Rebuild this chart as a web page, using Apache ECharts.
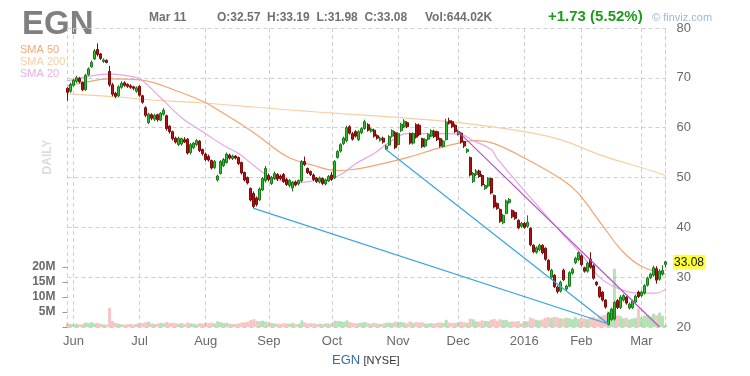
<!DOCTYPE html>
<html>
<head>
<meta charset="utf-8">
<title>EGN daily</title>
<script src="https://cdn.jsdelivr.net/npm/echarts@6/dist/echarts.min.js"></script>
<style>
  html, body { margin: 0; padding: 0; background: #fff; }
  #chart { width: 750px; height: 376px; }
</style>
</head>
<body>
<div id="chart"></div>
<script>
// trading days, May 28 2015 .. Mar 11 2016
const tradingDays = [
  ['2015-05', [28, 29]],
  ['2015-06', [1, 2, 3, 4, 5, 8, 9, 10, 11, 12, 15, 16, 17, 18, 19, 22, 23, 24, 25, 26, 29, 30]],
  ['2015-07', [1, 2, 6, 7, 8, 9, 10, 13, 14, 15, 16, 17, 20, 21, 22, 23, 24, 27, 28, 29, 30, 31]],
  ['2015-08', [3, 4, 5, 6, 7, 10, 11, 12, 13, 14, 17, 18, 19, 20, 21, 24, 25, 26, 27, 28, 31]],
  ['2015-09', [1, 2, 3, 4, 8, 9, 10, 11, 14, 15, 16, 17, 18, 21, 22, 23, 24, 25, 28, 29, 30]],
  ['2015-10', [1, 2, 5, 6, 7, 8, 9, 12, 13, 14, 15, 16, 19, 20, 21, 22, 23, 26, 27, 28, 29, 30]],
  ['2015-11', [2, 3, 4, 5, 6, 9, 10, 11, 12, 13, 16, 17, 18, 19, 20, 23, 24, 25, 27, 30]],
  ['2015-12', [1, 2, 3, 4, 7, 8, 9, 10, 11, 14, 15, 16, 17, 18, 21, 22, 23, 24, 28, 29, 30, 31]],
  ['2016-01', [4, 5, 6, 7, 8, 11, 12, 13, 14, 15, 19, 20, 21, 22, 25, 26, 27, 28, 29]],
  ['2016-02', [1, 2, 3, 4, 5, 8, 9, 10, 11, 12, 16, 17, 18, 19, 22, 23, 24, 25, 26, 29]],
  ['2016-03', [1, 2, 3, 4, 7, 8, 9, 10, 11]]
]
const monthLabels = {
  '2015-06': 'Jun', '2015-07': 'Jul', '2015-08': 'Aug', '2015-09': 'Sep',
  '2015-10': 'Oct', '2015-11': 'Nov', '2015-12': 'Dec', '2016-01': '2016',
  '2016-02': 'Feb', '2016-03': 'Mar'
}

const opens = [
  67.9, 67.3, 68.5, 69.3, 69.9, 69.1, 67.6, 70.6, 72.2, 73.8,
  75.7, 74.8, 73.3, 73.5, 71.3, 68.6, 66.9, 66.4, 68.1, 69.0,
  68.7, 68.4, 68.2, 67.3, 68.3, 66.4, 64.0, 61.0, 62.6, 61.7,
  62.6, 61.5, 62.7, 62.4, 60.3, 59.2, 57.9, 56.6, 56.7, 57.6,
  57.7, 55.0, 56.0, 56.6, 57.3, 55.6, 54.7, 54.2, 53.4, 52.0,
  49.5, 50.8, 52.4, 53.0, 54.5, 53.8, 54.3, 54.0, 53.0, 51.0,
  50.0, 47.8, 46.8, 45.9, 45.5, 47.5, 49.4, 50.4, 48.8, 49.8,
  50.6, 50.3, 50.6, 49.6, 48.4, 47.9, 49.1, 48.7, 49.3, 53.2,
  51.8, 51.2, 50.5, 49.9, 49.1, 49.8, 48.7, 49.3, 50.5, 49.9,
  54.0, 55.3, 56.8, 57.4, 60.2, 58.8, 59.2, 57.6, 59.0, 59.8,
  60.6, 59.3, 59.5, 58.4, 57.5, 57.9, 55.7, 56.5, 58.3, 59.0,
  56.6, 59.4, 60.2, 61.0, 58.8, 56.9, 60.6, 60.5, 57.8, 56.3,
  57.7, 58.3, 59.3, 59.2, 57.8, 56.2, 57.6, 61.4, 61.2, 60.5,
  58.7, 58.9, 57.2, 55.2, 54.0, 49.2, 50.6, 51.3, 50.4, 47.8,
  48.3, 49.8, 46.4, 44.8, 43.6, 40.9, 42.8, 45.0, 43.4, 43.0,
  41.4, 40.2, 40.8, 40.2, 39.8, 36.4, 35.0, 35.5, 36.4, 35.8,
  33.4, 30.0, 30.4, 28.0, 27.2, 31.4, 27.6, 28.2, 30.8, 32.9,
  33.5, 34.3, 31.9, 31.2, 33.6, 32.3, 29.0, 28.0, 27.0, 25.4,
  20.5, 21.5, 21.6, 25.3, 23.9, 25.4, 26.0, 23.8, 23.9, 25.0,
  27.0, 26.3, 26.8, 28.4, 29.9, 30.4, 31.7, 29.6, 30.6, 32.57
]
const closes = [
  67.1, 68.7, 69.5, 70.0, 69.2, 67.6, 70.5, 71.8, 73.1, 75.4,
  74.7, 73.9, 73.6, 73.1, 68.6, 66.7, 66.3, 68.2, 68.9, 68.5,
  68.3, 68.1, 67.9, 68.0, 66.5, 65.1, 62.5, 62.7, 61.9, 62.5,
  61.6, 62.9, 63.5, 59.8, 59.2, 57.8, 57.1, 57.9, 57.8, 57.1,
  54.9, 56.6, 56.9, 57.4, 55.4, 54.8, 53.6, 53.5, 51.9, 53.2,
  50.3, 53.2, 53.6, 54.7, 53.9, 54.3, 53.9, 52.8, 50.9, 49.5,
  48.9, 45.5, 44.2, 44.6, 47.7, 49.8, 51.8, 49.6, 50.0, 50.8,
  49.7, 49.8, 49.2, 48.6, 49.4, 49.0, 48.5, 49.4, 53.2, 52.6,
  51.0, 50.6, 49.6, 49.2, 49.9, 48.8, 49.5, 50.2, 49.6, 53.2,
  55.2, 56.6, 57.9, 60.0, 58.9, 57.7, 58.3, 59.2, 59.8, 61.2,
  59.5, 59.7, 58.3, 57.9, 57.9, 57.1, 56.3, 58.2, 59.4, 56.0,
  58.8, 60.7, 61.3, 60.2, 56.9, 58.8, 58.1, 58.6, 56.2, 57.6,
  58.6, 59.4, 58.2, 57.6, 56.3, 57.3, 61.1, 60.9, 60.2, 59.2,
  59.3, 57.1, 56.3, 55.6, 50.5, 50.8, 51.3, 50.2, 48.5, 48.4,
  49.8, 46.9, 44.1, 43.8, 41.2, 42.4, 45.3, 45.6, 42.1, 41.8,
  39.9, 40.8, 40.0, 41.0, 36.5, 35.1, 35.9, 36.4, 34.9, 33.6,
  31.5, 31.4, 28.1, 27.1, 29.0, 29.5, 28.2, 30.9, 31.6, 33.8,
  34.9, 32.5, 31.2, 32.8, 32.0, 29.8, 28.5, 26.1, 25.4, 24.0,
  22.8, 23.6, 24.9, 23.9, 26.0, 26.3, 24.8, 24.6, 25.2, 26.2,
  26.1, 27.0, 28.3, 29.8, 30.6, 31.9, 29.4, 31.2, 31.35, 33.08
]
const lows = [
  65.4, 67.0, 68.2, 69.0, 68.9, 67.3, 67.4, 70.4, 72.0, 73.6,
  74.3, 73.6, 73.0, 72.9, 68.2, 66.3, 65.9, 66.1, 67.8, 68.2,
  68.0, 67.8, 67.5, 67.0, 66.2, 64.8, 62.1, 60.7, 61.5, 61.3,
  61.2, 61.3, 62.4, 59.4, 58.8, 57.4, 56.8, 56.3, 56.4, 56.9,
  54.6, 54.6, 55.7, 56.3, 55.1, 54.4, 53.3, 53.2, 51.6, 51.7,
  49.2, 50.6, 52.1, 52.8, 53.6, 53.5, 53.6, 52.5, 50.6, 49.2,
  48.6, 45.2, 43.8, 44.2, 45.3, 47.3, 49.0, 49.2, 48.5, 49.5,
  49.3, 49.5, 48.9, 48.3, 48.0, 47.2, 48.2, 48.4, 49.0, 52.3,
  50.7, 50.3, 49.3, 48.9, 48.8, 48.5, 48.4, 49.1, 49.3, 49.7,
  53.8, 55.0, 56.5, 57.1, 58.6, 57.4, 58.0, 57.3, 58.7, 59.6,
  59.2, 59.0, 58.0, 57.6, 57.2, 56.8, 55.6, 56.3, 58.0, 55.7,
  56.4, 59.1, 59.9, 59.9, 56.6, 56.6, 57.8, 58.3, 55.9, 56.0,
  57.4, 58.1, 57.9, 57.3, 56.0, 56.0, 57.4, 60.6, 59.9, 58.9,
  58.4, 56.8, 55.9, 54.9, 50.2, 48.9, 50.3, 49.9, 48.2, 47.5,
  48.0, 46.6, 43.8, 43.5, 40.9, 40.6, 42.6, 44.7, 41.8, 41.5,
  39.6, 39.9, 39.7, 39.9, 36.2, 34.8, 34.7, 35.2, 34.6, 33.3,
  31.2, 29.7, 27.8, 26.7, 26.9, 29.2, 27.3, 28.0, 30.5, 32.6,
  33.2, 32.2, 30.9, 30.9, 31.7, 29.5, 28.2, 25.8, 25.1, 23.7,
  20.3, 21.2, 21.3, 23.6, 23.6, 25.1, 24.5, 23.5, 23.6, 24.7,
  25.8, 26.0, 26.5, 28.1, 29.6, 30.1, 28.7, 29.3, 30.3, 31.98
]
const highs = [
  68.1, 69.0, 69.8, 70.4, 70.2, 69.3, 70.8, 72.1, 73.5, 75.8,
  76.9, 75.0, 73.9, 73.7, 72.4, 69.0, 67.2, 68.5, 69.3, 69.3,
  68.9, 68.7, 68.4, 68.3, 68.5, 66.6, 64.3, 63.0, 62.9, 62.8,
  62.8, 63.1, 63.9, 62.6, 60.5, 59.4, 58.2, 58.2, 58.0, 58.1,
  57.9, 56.9, 57.1, 57.7, 57.5, 55.8, 55.0, 54.6, 53.6, 53.5,
  50.6, 53.5, 53.9, 55.0, 54.8, 54.6, 54.5, 54.2, 53.2, 51.2,
  50.2, 48.0, 47.2, 46.2, 48.0, 50.1, 52.3, 50.8, 50.3, 51.2,
  50.9, 50.6, 50.9, 49.9, 49.7, 49.3, 49.4, 49.6, 53.5, 54.2,
  52.0, 51.4, 50.8, 50.1, 50.2, 50.0, 49.8, 50.5, 51.1, 53.5,
  55.5, 56.9, 58.2, 60.4, 60.5, 59.1, 59.5, 59.5, 60.1, 61.6,
  60.9, 60.0, 59.8, 58.7, 58.2, 58.2, 56.6, 58.5, 59.7, 59.3,
  59.1, 61.0, 61.7, 61.3, 59.0, 59.1, 60.9, 60.8, 58.0, 57.9,
  58.9, 59.7, 59.6, 59.4, 58.0, 57.6, 61.8, 62.0, 61.5, 60.8,
  59.6, 59.1, 57.4, 55.9, 54.2, 51.1, 51.7, 51.6, 50.7, 48.7,
  50.1, 50.0, 46.6, 45.0, 43.8, 42.7, 45.6, 45.9, 43.6, 43.2,
  41.6, 41.1, 41.1, 42.4, 40.0, 36.6, 36.2, 36.7, 36.6, 36.0,
  33.6, 31.7, 30.6, 28.3, 29.3, 31.7, 28.5, 31.2, 31.9, 34.1,
  35.2, 34.6, 32.1, 33.1, 35.0, 32.6, 29.2, 28.2, 27.2, 25.6,
  23.0, 23.9, 25.2, 25.6, 26.4, 26.6, 26.2, 24.9, 25.5, 26.5,
  27.3, 27.3, 28.6, 30.1, 30.9, 32.3, 32.2, 31.6, 32.4, 33.19
]
// volume in millions of shares
const volumes = [
  1.2, 1.0, 0.9, 1.1, 0.8, 1.0, 1.5, 1.3, 1.6, 1.2,
  1.4, 1.0, 0.9, 0.8, 6.4, 2.0, 1.4, 1.1, 0.9, 0.8,
  0.9, 1.0, 0.8, 1.1, 1.2, 1.3, 1.6, 1.8, 1.2, 1.0,
  1.1, 1.4, 1.2, 1.7, 1.3, 1.4, 1.2, 1.1, 1.3, 1.0,
  1.5, 1.2, 1.1, 0.9, 1.3, 1.2, 1.4, 1.3, 1.5, 1.2,
  1.9, 1.6, 1.3, 1.4, 1.1, 1.0, 1.0, 1.2, 1.5, 1.6,
  1.8, 2.3, 2.6, 2.0, 1.9, 2.1, 1.8, 1.6, 1.3, 1.2,
  1.1, 1.0, 1.3, 1.2, 1.1, 1.4, 1.0, 1.1, 2.2, 1.5,
  1.2, 1.3, 1.2, 1.0, 1.1, 1.0, 1.2, 1.1, 1.2, 2.1,
  2.0, 1.9, 1.7, 2.2, 1.6, 1.4, 1.2, 1.3, 1.5, 1.7,
  1.3, 1.1, 1.4, 1.2, 1.0, 1.1, 1.4, 1.5, 1.3, 1.8,
  1.6, 1.7, 1.5, 1.2, 1.9, 1.4, 1.6, 1.5, 1.6, 1.2,
  1.1, 1.3, 1.2, 1.4, 1.5, 1.3, 2.4, 1.5, 1.3, 1.4,
  1.5, 1.8, 1.6, 1.4, 2.8, 2.6, 1.9, 1.8, 2.2, 2.0,
  1.9, 2.4, 2.7, 2.1, 2.6, 2.3, 2.4, 1.7, 1.9, 1.8,
  2.0, 1.2, 2.0, 1.9, 3.1, 2.8, 2.4, 2.2, 2.5, 3.0,
  3.3, 3.0, 3.4, 3.2, 2.9, 2.8, 3.1, 2.9, 2.6, 3.3,
  2.7, 3.0, 2.8, 2.6, 3.2, 3.4, 2.8, 3.5, 3.8, 4.1,
  5.2, 4.6, 19.4, 3.9, 3.6, 2.9, 3.1, 2.5, 2.8, 3.0,
  6.2, 3.2, 3.8, 4.0, 3.5, 4.4, 3.9, 4.8, 3.7, 0.64
]

// moving averages: [day index, price]
const sma50 = [
  [0, 68.4], [5, 69.0], [14, 69.8], [24, 69.6], [38, 67.0], [46, 65.0], [50, 63.6],
  [62, 59.0], [73, 54.2], [82, 52.4], [90, 51.4], [95, 51.6], [102, 52.4], [113, 54.0],
  [124, 56.0], [131, 57.0], [136, 57.4], [142, 56.8], [153, 53.6], [165, 49.4], [170, 46.8],
  [178, 40.4], [185, 35.0], [191, 32.2], [199, 30.6]
]
const sma200 = [
  [0, 66.8], [16, 66.2], [27, 65.6], [44, 65.0], [61, 64.2], [77, 63.4], [91, 62.8],
  [111, 62.0], [127, 61.2], [141, 60.2], [154, 59.0], [164, 57.6], [177, 54.6], [183, 53.4],
  [191, 52.0], [199, 50.4]
]
const sma20 = [
  [0, 69.4], [8, 70.4], [14, 70.8], [20, 70.4], [24, 69.8], [31, 66.0], [38, 62.0],
  [46, 58.8], [52, 56.4], [57, 54.8], [62, 52.4], [66, 50.6], [70, 49.5], [77, 49.0],
  [83, 49.4], [88, 49.8], [92, 51.0], [96, 52.8], [102, 54.8], [107, 57.0], [113, 58.8],
  [125, 58.8], [131, 58.6], [135, 57.4], [141, 55.6], [143, 53.8], [154, 46.0], [165, 38.5],
  [171, 34.6], [177, 30.0], [183, 27.8], [190, 26.8], [196, 26.8], [199, 27.6]
]
// trend lines: [day index, price] end points
const trendBlue1 = [[62, 43.8], [180, 20.6]]
const trendBlue2 = [[106, 55.6], [180, 20.6]]
const trendPurple = [[130, 59.2], [197, 20.0]]

const volumeTicks = [5, 10, 15, 20]

const dates = []
tradingDays.forEach(([month, days]) => {
  days.forEach(d => dates.push(month + '-' + String(d).padStart(2, '0')))
})
if ([opens, closes, lows, highs, volumes].some(a => a.length !== dates.length)) {
  throw new Error('length mismatch')
}

const isMonthStart = i => i > 0 && dates[i].slice(0, 7) !== dates[i - 1].slice(0, 7)
const toPoints = arr => arr.map(([i, v]) => [dates[i], v])

const candles = dates.map((d, i) => [opens[i], closes[i], lows[i], highs[i]])
const volumeBars = volumes.map((v, i) => ({
  value: v,
  itemStyle: { color: closes[i] >= opens[i] ? 'rgba(120, 200, 120, 0.55)' : 'rgba(240, 150, 150, 0.55)' }
}))
const lastDate = dates[dates.length - 1]
const lastClose = closes[closes.length - 1]

const font = 'Arial, "Liberation Sans", sans-serif'
const chart = echarts.init(document.getElementById('chart'), null, { renderer: 'canvas' })

const option = {
  animation: false,
  backgroundColor: '#fff',
  textStyle: { fontFamily: font },
  grid: [
    { left: 67.5, right: 84.5, top: 28, bottom: 49 },
    { left: 67.5, right: 84.5, top: 267, bottom: 49 }
  ],
  xAxis: [
    {
      type: 'category', gridIndex: 0, data: dates, boundaryGap: false,
      axisLine: { show: false }, axisTick: { show: false },
      axisLabel: {
        interval: (i) => isMonthStart(i),
        formatter: (v) => monthLabels[v.slice(0, 7)] || '',
        color: '#6a6a6a', fontSize: 13, margin: 8, fontFamily: font
      },
      splitLine: {
        show: true,
        interval: (i) => i === 0 || isMonthStart(i),
        lineStyle: { color: '#cfcfcf', type: [4, 3], width: 1 }
      }
    },
    {
      type: 'category', gridIndex: 1, data: dates, boundaryGap: false, show: false
    }
  ],
  yAxis: [
    {
      type: 'value', gridIndex: 0, position: 'right', min: 20, max: 80, interval: 10,
      axisLine: { show: true, lineStyle: { color: '#cfcfcf', type: [4, 3] } },
      axisTick: { show: false },
      axisLabel: { color: '#6a6a6a', fontSize: 13, margin: 11, fontFamily: font },
      splitLine: { lineStyle: { color: '#cfcfcf', type: [4, 3] } }
    },
    {
      type: 'value', gridIndex: 1, position: 'left', min: 0, max: 20, interval: 5,
      axisLine: { show: false },
      axisTick: { show: true, length: 5, lineStyle: { color: '#999' } },
      axisLabel: {
        color: '#6a6a6a', fontSize: 12, fontWeight: 'bold', margin: 12, fontFamily: font,
        formatter: (v) => volumeTicks.includes(v) ? v + 'M' : ''
      },
      splitLine: { show: false }
    }
  ],
  series: [
    {
      name: 'Volume', type: 'bar', xAxisIndex: 1, yAxisIndex: 1,
      data: volumeBars, barWidth: 3, clip: false, z: 1, silent: true
    },
    {
      name: 'SMA 200', type: 'line', data: toPoints(sma200), smooth: 0.4, symbol: 'none',
      lineStyle: { color: '#f6cfa2', width: 1.2 }, z: 2, silent: true
    },
    {
      name: 'SMA 50', type: 'line', data: toPoints(sma50), smooth: 0.4, symbol: 'none',
      lineStyle: { color: '#f2a56e', width: 1.2 }, z: 2, silent: true
    },
    {
      name: 'SMA 20', type: 'line', data: toPoints(sma20), smooth: 0.4, symbol: 'none',
      lineStyle: { color: '#e6a6e6', width: 1.2 }, z: 2, silent: true
    },
    {
      name: 'EGN', type: 'candlestick', data: candles, barWidth: 2.5, clip: false, z: 3,
      itemStyle: {
        color: '#2fc02f', color0: '#b01515',
        borderColor: '#187a18', borderColor0: '#7c0a0a', borderWidth: 1
      }
    },
    {
      name: 'trend 1', type: 'line', data: toPoints(trendBlue1), symbol: 'none',
      lineStyle: { color: '#3aa5dc', width: 1.2 }, z: 4, silent: true
    },
    {
      name: 'trend 2', type: 'line', data: toPoints(trendBlue2), symbol: 'none',
      lineStyle: { color: '#3aa5dc', width: 1.2 }, z: 4, silent: true
    },
    {
      name: 'trend 3', type: 'line', data: toPoints(trendPurple), symbol: 'none',
      lineStyle: { color: '#b255c8', width: 1.2 }, z: 4, silent: true
    }
  ],
  graphic: [
    { type: 'text', left: 22, top: 8, style: { text: 'EGN', fill: '#808080', fontSize: 33, fontWeight: 'bold', fontFamily: font } },
    { type: 'text', left: 149, top: 12, style: { text: 'Mar 11', fill: '#707070', fontSize: 12, fontWeight: 'bold', fontFamily: font } },
    { type: 'text', left: 217, top: 12, style: { text: 'O:32.57  H:33.19  L:31.98  C:33.08', fill: '#707070', fontSize: 12, fontWeight: 'bold', fontFamily: font } },
    { type: 'text', left: 425, top: 12, style: { text: 'Vol:644.02K', fill: '#707070', fontSize: 12, fontWeight: 'bold', fontFamily: font } },
    { type: 'text', left: 548, top: 9, style: { text: '+1.73 (5.52%)', fill: '#1f9a1f', fontSize: 15, fontWeight: 'bold', fontFamily: font } },
    { type: 'text', left: 652, top: 12, style: { text: '© finviz.com', fill: '#98b9d9', fontSize: 11, fontFamily: font } },
    { type: 'text', left: 20, top: 44, style: { text: 'SMA 50', fill: '#f4a877', fontSize: 11, fontFamily: font } },
    { type: 'text', left: 20, top: 56, style: { text: 'SMA 200', fill: '#f5cfa5', fontSize: 11, fontFamily: font } },
    { type: 'text', left: 20, top: 68, style: { text: 'SMA 20', fill: '#e8afe8', fontSize: 11, fontFamily: font } },
    {
      type: 'text', x: 48, y: 157, rotation: Math.PI / 2,
      style: { text: 'DAILY', fill: '#dcdcdc', fontSize: 12, fontWeight: 'bold', fontFamily: font, align: 'center', verticalAlign: 'middle' }
    },
    {
      type: 'text', left: 332, top: 354,
      style: {
        text: '{a|EGN} {b|[NYSE]}',
        fontFamily: font,
        rich: {
          a: { fill: '#2f6fb0', fontSize: 13, fontFamily: font },
          b: { fill: '#333', fontSize: 11, fontFamily: font }
        }
      }
    }
  ]
}

chart.setOption(option)

// yellow last-price tag on the right, placed at the last close through the price axis
const lastY = chart.convertToPixel({ xAxisIndex: 0, yAxisIndex: 0 }, [lastDate, lastClose])[1]
option.graphic.push({
  type: 'group', x: 673, y: lastY - 7,
  children: [
    { type: 'rect', shape: { x: 0, y: 0, width: 32, height: 14 }, style: { fill: '#ffff33' } },
    { type: 'text', x: 16, y: 7.5, style: { text: lastClose.toFixed(2), fill: '#111', fontSize: 12, fontFamily: font, align: 'center', verticalAlign: 'middle' } }
  ]
})
chart.setOption(option, true)
</script>
</body>
</html>
